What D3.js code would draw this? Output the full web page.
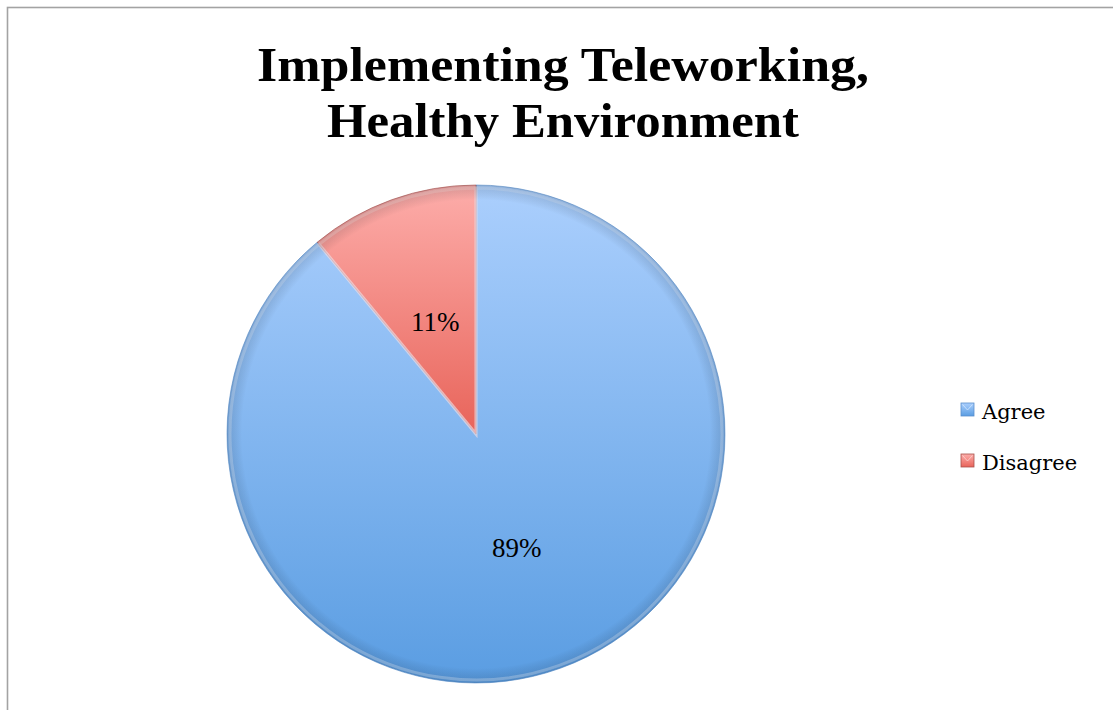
<!DOCTYPE html>
<html>
<head>
<meta charset="utf-8">
<script src="https://cdn.jsdelivr.net/npm/d3@7"></script>
<style>
  html, body { margin: 0; padding: 0; background: #fff; }
  svg { display: block; }
</style>
</head>
<body>
<svg id="chart" width="1113" height="710"></svg>
<script>
// Survey answers: share of respondents
const categories = ["Agree", "Disagree"];
const shares = [89, 11];
const titleLines = ["Implementing Teleworking,", "Healthy Environment"];
const titleWidths = [612, 472];

const palette = {
  Agree:    { top: "#abcffd", bottom: "#5a9de2", edge: "#5a8fcc", light: "#d6e8ff" },
  Disagree: { top: "#fdadaa", bottom: "#e8645a", edge: "#a9524c", light: "#ffd6d3" }
};

const svg = d3.select("#chart");
const W = 1113, H = 710;

// chart frame (extends past the right and bottom edges)
svg.append("rect")
  .attr("x", 7.5).attr("y", 7.5)
  .attr("width", W + 20).attr("height", H + 20)
  .attr("fill", "#fff")
  .attr("stroke", "#a3a3a3").attr("stroke-width", 1.6);

// title
svg.append("g").selectAll("text")
  .data(titleLines)
  .join("text")
  .attr("x", 563)
  .attr("y", (d, i) => 81 + i * 56)
  .attr("text-anchor", "middle")
  .attr("font-family", "'Liberation Serif', serif")
  .attr("font-weight", "bold")
  .attr("font-size", 48)
  .attr("textLength", (d, i) => titleWidths[i])
  .attr("lengthAdjust", "spacingAndGlyphs")
  .attr("fill", "#000")
  .text(d => d);

const defs = svg.append("defs");
categories.forEach((c, i) => {
  const g = defs.append("linearGradient")
    .attr("id", "grad-" + i)
    .attr("x1", 0).attr("y1", 0).attr("x2", 0).attr("y2", 1);
  g.append("stop").attr("offset", "0%").attr("stop-color", palette[c].top);
  g.append("stop").attr("offset", "100%").attr("stop-color", palette[c].bottom);
});
// soft darkening toward the rim
const rim = defs.append("radialGradient").attr("id", "rim")
  .attr("gradientUnits", "userSpaceOnUse")
  .attr("cx", 0).attr("cy", 0).attr("r", 249);
rim.append("stop").attr("offset", "94%").attr("stop-color", "#000").attr("stop-opacity", 0);
rim.append("stop").attr("offset", "100%").attr("stop-color", "#123").attr("stop-opacity", 0.16);

const cx = 476, cy = 434, R = 249;
const pie = d3.pie().sort(null).value(d => d.v);
const data = pie(categories.map((c, i) => ({ c, v: shares[i] })));
const arc = d3.arc().innerRadius(0).outerRadius(R);
const bevel = d3.arc().innerRadius(0).outerRadius(R - 3);
const labelArc = d3.arc().innerRadius(120).outerRadius(120);

const g = svg.append("g").attr("transform", `translate(${cx},${cy})`);

g.selectAll("path.slice")
  .data(data)
  .join("path")
  .attr("class", "slice")
  .attr("d", arc)
  .attr("fill", (d, i) => `url(#grad-${i})`)
  .attr("stroke", d => palette[d.data.c].edge)
  .attr("stroke-opacity", 0.6)
  .attr("stroke-width", 1)
  .attr("stroke-linejoin", "round");

// inner bevel highlight
g.selectAll("path.bevel")
  .data(data)
  .join("path")
  .attr("class", "bevel")
  .attr("d", bevel)
  .attr("fill", "none")
  .attr("stroke", d => palette[d.data.c].light)
  .attr("stroke-opacity", 0.4)
  .attr("stroke-width", 3);

g.append("circle").attr("r", R).attr("fill", "url(#rim)");

// percentage labels
g.selectAll("text.lbl")
  .data(data)
  .join("text")
  .attr("class", "lbl")
  .attr("transform", d => {
    const [x, y] = labelArc.centroid(d);
    return `translate(${x},${y + 10})`;
  })
  .attr("text-anchor", "middle")
  .attr("font-family", "'Liberation Serif', serif")
  .attr("font-size", 27)
  .attr("fill", "#000")
  .text(d => d.data.v + "%");

// legend
const legend = svg.append("g").attr("transform", "translate(961,403)");
const item = legend.selectAll("g")
  .data(categories)
  .join("g")
  .attr("transform", (d, i) => `translate(0,${i * 51})`);
item.append("rect")
  .attr("width", 13).attr("height", 13)
  .attr("fill", (d, i) => `url(#grad-${i})`)
  .attr("stroke", d => palette[d].edge)
  .attr("stroke-width", 0.8);
item.append("path")
  .attr("d", "M1.5,1.5 L6.5,7 L11.5,1.5")
  .attr("fill", "none")
  .attr("stroke", d => palette[d].light)
  .attr("stroke-opacity", 0.8)
  .attr("stroke-width", 1);
item.append("text")
  .attr("x", 21).attr("y", 16)
  .attr("font-family", "'DejaVu Serif', serif")
  .attr("font-size", 21)
  .attr("fill", "#000")
  .text(d => d);
</script>
</body>
</html>
